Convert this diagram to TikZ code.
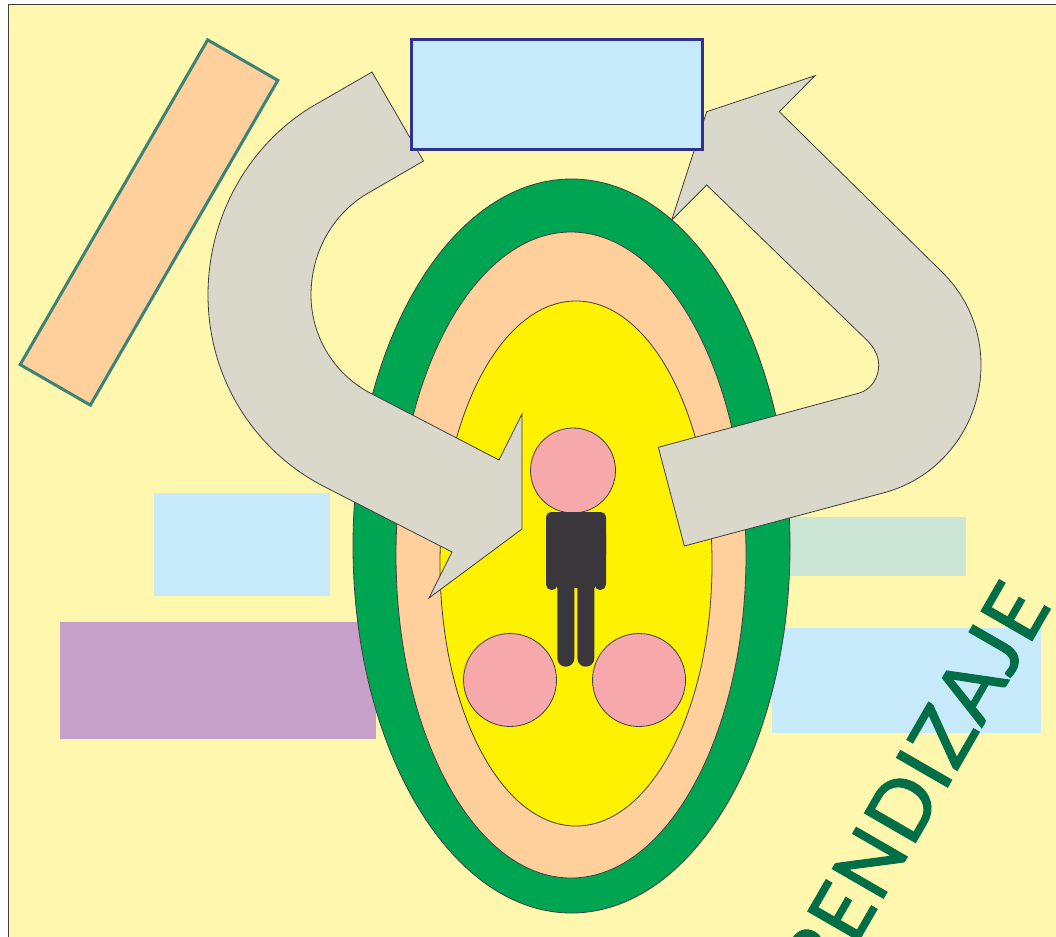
\documentclass[tikz,border=0pt]{standalone}
\usepackage{xcolor}
\usepackage{fontspec}
\setmainfont{Lato}
\newfontfamily\wordfont{Lato}[FakeBold=1.6, LetterSpace=2]
\usepackage{tikz}
\usetikzlibrary{shapes.geometric}

\definecolor{paper}{HTML}{FFF7AE}
\definecolor{skyfill}{HTML}{C7EAFB}
\definecolor{peachfill}{HTML}{FFCF9C}
\definecolor{mintfill}{HTML}{CCE5D5}
\definecolor{plumfill}{HTML}{C6A0C9}
\definecolor{leaf}{HTML}{00A551}
\definecolor{sun}{HTML}{FFF200}
\definecolor{rose}{HTML}{F7A8AB}
\definecolor{stone}{HTML}{DAD7CB}
\definecolor{figure}{HTML}{39373C}
\definecolor{outline}{HTML}{3F3F3F}
\definecolor{navy}{HTML}{2E3192}
\definecolor{teal2}{HTML}{3A8477}
\definecolor{wordgreen}{HTML}{006F47}

\begin{document}
\begin{tikzpicture}[
    x=1pt, y=-1pt,
    panel/.style={rectangle, inner sep=0pt, outer sep=0pt},
    ring/.style={ellipse, draw=outline, line width=0.8pt, inner sep=0pt, outer sep=0pt},
    ball/.style={circle, draw=outline, line width=0.8pt, fill=rose, inner sep=0pt, outer sep=0pt, minimum size=93pt},
    bigarrow/.style={draw=outline, line width=0.8pt, fill=stone, line join=miter}
]
\clip (0,0) rectangle (1056,936);
\draw[outline, line width=0.8pt, fill=paper] (8.5,4.5) rectangle (1070,950);

% Panels behind the rings
\node[panel, fill=skyfill, minimum width=176pt, minimum height=103pt] (leftsky) at (242,544.5) {};
\node[panel, fill=plumfill, minimum width=316pt, minimum height=117pt] (plum) at (218,680.5) {};
\node[panel, fill=mintfill, minimum width=226pt, minimum height=59pt] (mint) at (853,546.5) {};
\node[panel, fill=skyfill, minimum width=269pt, minimum height=105pt] (rightsky) at (906.5,680.5) {};
\node[panel, fill=peachfill, draw=teal2, line width=3pt, rotate=60, minimum width=375pt, minimum height=81pt] (slant) at (149,222.5) {};

% Rings
\node[ring, fill=leaf, minimum width=437pt, minimum height=734pt] (outerring) at (571.5,546) {};
\node[ring, fill=peachfill, minimum width=350pt, minimum height=646pt] (midring) at (571,555) {};
\node[ring, fill=sun, minimum width=272pt, minimum height=525pt] (innerring) at (576,563.5) {};

% Figure and balls
\node[ball, minimum size=85pt] (head) at (573,470.5) {};
\node[ball] (ballleft) at (510,680) {};
\node[ball] (ballright) at (639,680) {};
\fill[figure, rounded corners=5pt] (546,512) rectangle (606,560);
\fill[figure, rounded corners=5.5pt] (546,530) rectangle (557.5,590);
\fill[figure, rounded corners=5.5pt] (594.5,530) rectangle (606,590);
\fill[figure] (557,540) rectangle (595,588);
\fill[figure, rounded corners=8.4pt] (557.3,570) rectangle (574.3,666.7);
\fill[figure, rounded corners=8.4pt] (577.3,570) rectangle (594.3,666.7);

% Curved arrows
\draw[bigarrow] (372,72) -- (423.5,161) -- (370,192)
    .. controls (334,212) and (311,251) .. (311,295)
    .. controls (311,338) and (336,376) .. (372,394)
    -- (499,460) -- (522,414) -- (522,529) -- (429,598) -- (452,552) -- (325,487)
    .. controls (256,452) and (208,380) .. (208,295)
    .. controls (208,211) and (254,138) .. (320,102) -- cycle;
\draw[bigarrow] (706.7,111.7) -- (815,75.7) -- (779.3,111.7) -- (943,273)
    .. controls (968,298) and (981,331) .. (981,365)
    .. controls (981,425) and (941,478) .. (883,493)
    -- (684.3,546) -- (658.3,447.3) -- (858.3,393.3)
    .. controls (871,390) and (878.7,378) .. (878.7,365)
    .. controls (878.7,356) and (874,347) .. (866.7,340)
    -- (706.7,185) -- (671.7,220) -- cycle;

\node[panel, fill=skyfill, draw=navy, line width=3pt, minimum width=291pt, minimum height=110pt] (topsky) at (556.5,95) {};

\node[anchor=base east, rotate=60, inner sep=0pt, text=wordgreen, font=\wordfont\fontsize{82}{82}\selectfont] (word) at (1052,606) {RENDIZAJE};
\end{tikzpicture}
\end{document}
